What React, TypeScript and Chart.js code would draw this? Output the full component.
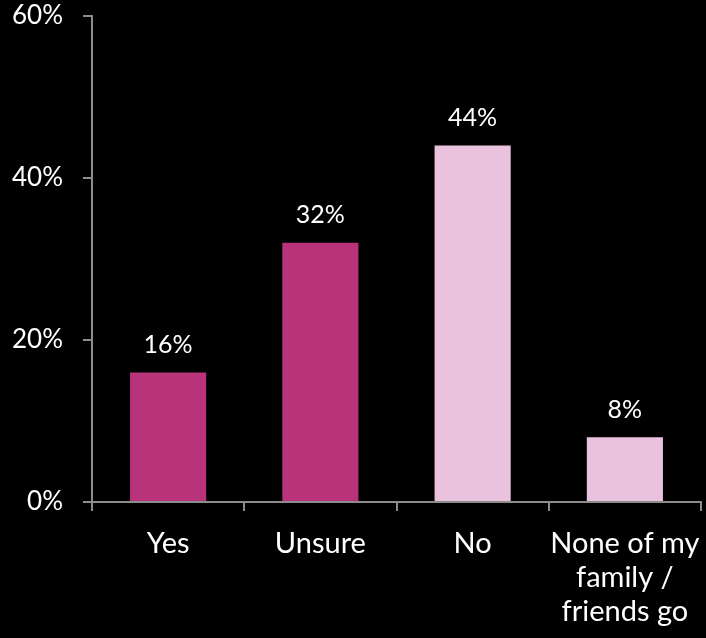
import React, { useEffect, useRef } from "react";
import { Chart, registerables } from "chart.js";

Chart.register(...registerables);

const categories: (string | string[])[] = ["Yes", "Unsure", "No", ["None of my", "family /", "friends go"]];
const values: number[] = [16, 32, 44, 8];
const barColors: string[] = ["#B8337A", "#B8337A", "#EAC2DD", "#EAC2DD"];
const yTicks: number[] = [0, 20, 40, 60];

const FONT = "Lato, 'Open Sans', sans-serif";

const labelPlugin = {
  id: "valueLabels",
  afterDatasetsDraw(chart: any) {
    const ctx = chart.ctx;
    const meta = chart.getDatasetMeta(0);
    ctx.save();
    ctx.fillStyle = "#ffffff";
    ctx.font = `25px ${FONT}`;
    ctx.textAlign = "center";
    ctx.textBaseline = "bottom";
    meta.data.forEach((bar: any, i: number) => {
      ctx.fillText(`${values[i]}%`, bar.x, bar.y - 15);
    });
    ctx.restore();
  },
};

export default function App() {
  const ref = useRef<HTMLCanvasElement | null>(null);
  useEffect(() => {
    document.body.style.margin = "0";
    document.body.style.background = "#000";
    const chart = new Chart(ref.current!, {
      type: "bar",
      data: {
        labels: categories,
        datasets: [
          {
            data: values,
            backgroundColor: barColors,
            borderWidth: 0,
            barPercentage: 0.5,
            categoryPercentage: 1,
          },
        ],
      },
      options: {
        responsive: false,
        animation: false,
        layout: { padding: { top: 16, right: 5, left: 0, bottom: 0 } },
        plugins: { legend: { display: false }, tooltip: { enabled: false } },
        scales: {
          x: {
            offset: true,
            grid: {
              display: true,
              drawOnChartArea: false,
              drawTicks: true,
              tickLength: 9,
              color: "#8c8c8c",
              lineWidth: 2,
              offset: true,
            },
            border: { color: "#8c8c8c", width: 2 },
            ticks: {
              color: "#ffffff",
              font: { family: FONT, size: 29, lineHeight: 1.17 },
              padding: 16,
              maxRotation: 0,
              autoSkip: false,
            },
            afterFit(scale: any) {
              scale.height = 136;
              scale.paddingLeft = 0;
              scale.paddingRight = 0;
            },
          },
          y: {
            min: 0,
            max: 60,
            afterBuildTicks(scale: any) {
              scale.ticks = yTicks.map((v) => ({ value: v }));
            },
            grid: {
              display: true,
              drawOnChartArea: false,
              drawTicks: true,
              tickLength: 9,
              color: "#8c8c8c",
              lineWidth: 2,
            },
            border: { color: "#8c8c8c", width: 2 },
            ticks: {
              color: "#ffffff",
              font: { family: FONT, size: 26 },
              padding: 20,
              callback: (v: any) => `${v}%`,
            },
            afterFit(scale: any) {
              scale.width = 92;
              scale.paddingTop = 0;
              scale.paddingBottom = 0;
            },
          },
        },
      },
      plugins: [labelPlugin],
    });
    return () => chart.destroy();
  }, []);
  return (
    <div style={{ position: "fixed", left: 0, top: 0, width: 706, height: 638, background: "#000" }}>
      <canvas ref={ref} width={706} height={638} style={{ display: "block" }} />
    </div>
  );
}
